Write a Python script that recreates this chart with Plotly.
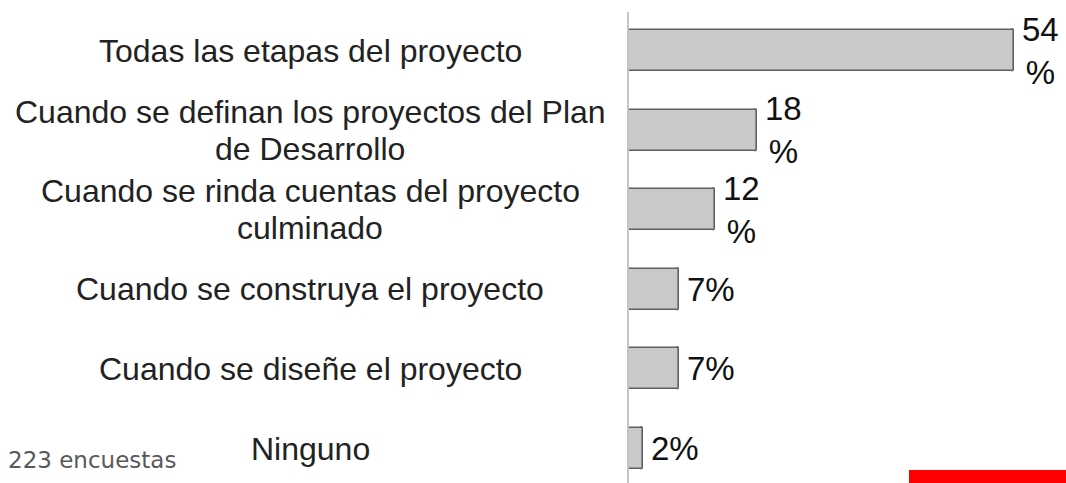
import plotly.graph_objects as go

categories = [
    "Todas las etapas del proyecto",
    "Cuando se definan los proyectos del Plan<br>de Desarrollo",
    "Cuando se rinda cuentas del proyecto<br>culminado",
    "Cuando se construya el proyecto",
    "Cuando se diseñe el proyecto",
    "Ninguno",
]
values = [54, 18, 12, 7, 7, 2]
value_labels = ["54<br>%", "18<br>%", "12<br>%", "7%", "7%", "2%"]
note_text = "223 encuestas"

W, H = 1066, 483
ML, MR, MT, MB = 629, 9, 12, 0
XMAX = 60
plot_w = W - ML - MR
plot_h = H - MT - MB
step = 79.6  # pixel distance between bar centers
first_center = 50.5
y_top = -(first_center - MT) / step
y_bot = y_top + plot_h / step

fig = go.Figure()
fig.add_trace(go.Bar(
    x=values,
    y=list(range(len(categories))),
    orientation="h",
    width=0.515,
    marker=dict(color="#c9c9c9", line=dict(color="#5f5f5f", width=1.6), cornerradius=2),
    hoverinfo="skip",
    cliponaxis=False,
))

annotations = []
# category labels, each line placed separately (centered)
label_cx = 310
label_x_paper = (label_cx - ML) / plot_w
line_gap = 37
for i, cat in enumerate(categories):
    lines = cat.split("<br>")
    n = len(lines)
    for j, ln in enumerate(lines):
        annotations.append(dict(
            x=label_x_paper, xref="paper", y=i, yref="y",
            text=ln, showarrow=False, xanchor="center", yanchor="middle",
            yshift=((n - 1) / 2 - j) * line_gap,
            font=dict(family="Liberation Sans, Arial", size=32, color="#222222"),
        ))

# value labels
for i, (v, t) in enumerate(zip(values, value_labels)):
    annotations.append(dict(
        x=v, xref="x", y=i, yref="y", text=t, showarrow=False,
        xanchor="left", yanchor="middle", xshift=6, align="center",
        font=dict(family="Liberation Sans, Arial", size=33, color="#111111"),
    ))

# footnote
annotations.append(dict(
    x=(178 - ML) / plot_w, xref="paper", y=(H - MB - 460) / plot_h, yref="paper",
    text=note_text, showarrow=False, xanchor="right", yanchor="middle",
    font=dict(family="DejaVu Sans", size=23, color="#595959"),
))

shapes = [dict(
    type="rect", xref="paper", yref="paper",
    x0=(909 - ML) / plot_w, x1=(1070 - ML) / plot_w,
    y0=(H - 483) / plot_h - 0.02, y1=(H - 470) / plot_h,
    fillcolor="#ff0000", line=dict(width=0), layer="above",
)]

fig.update_layout(
    width=W, height=H,
    margin=dict(l=ML, r=MR, t=MT, b=MB),
    paper_bgcolor="white", plot_bgcolor="white",
    showlegend=False,
    xaxis=dict(range=[0, XMAX], visible=False, fixedrange=True),
    yaxis=dict(range=[y_bot, y_top], showticklabels=False, ticks="", showgrid=False,
               zeroline=False, showline=True, linecolor="#c4c4c4", linewidth=2,
               fixedrange=True),
    annotations=annotations,
    shapes=shapes,
    bargap=0,
)

fig.write_html(
    "out.html",
    config={"displayModeBar": False},
    post_script="document.body.style.margin='0';document.body.style.overflow='hidden';",
)
